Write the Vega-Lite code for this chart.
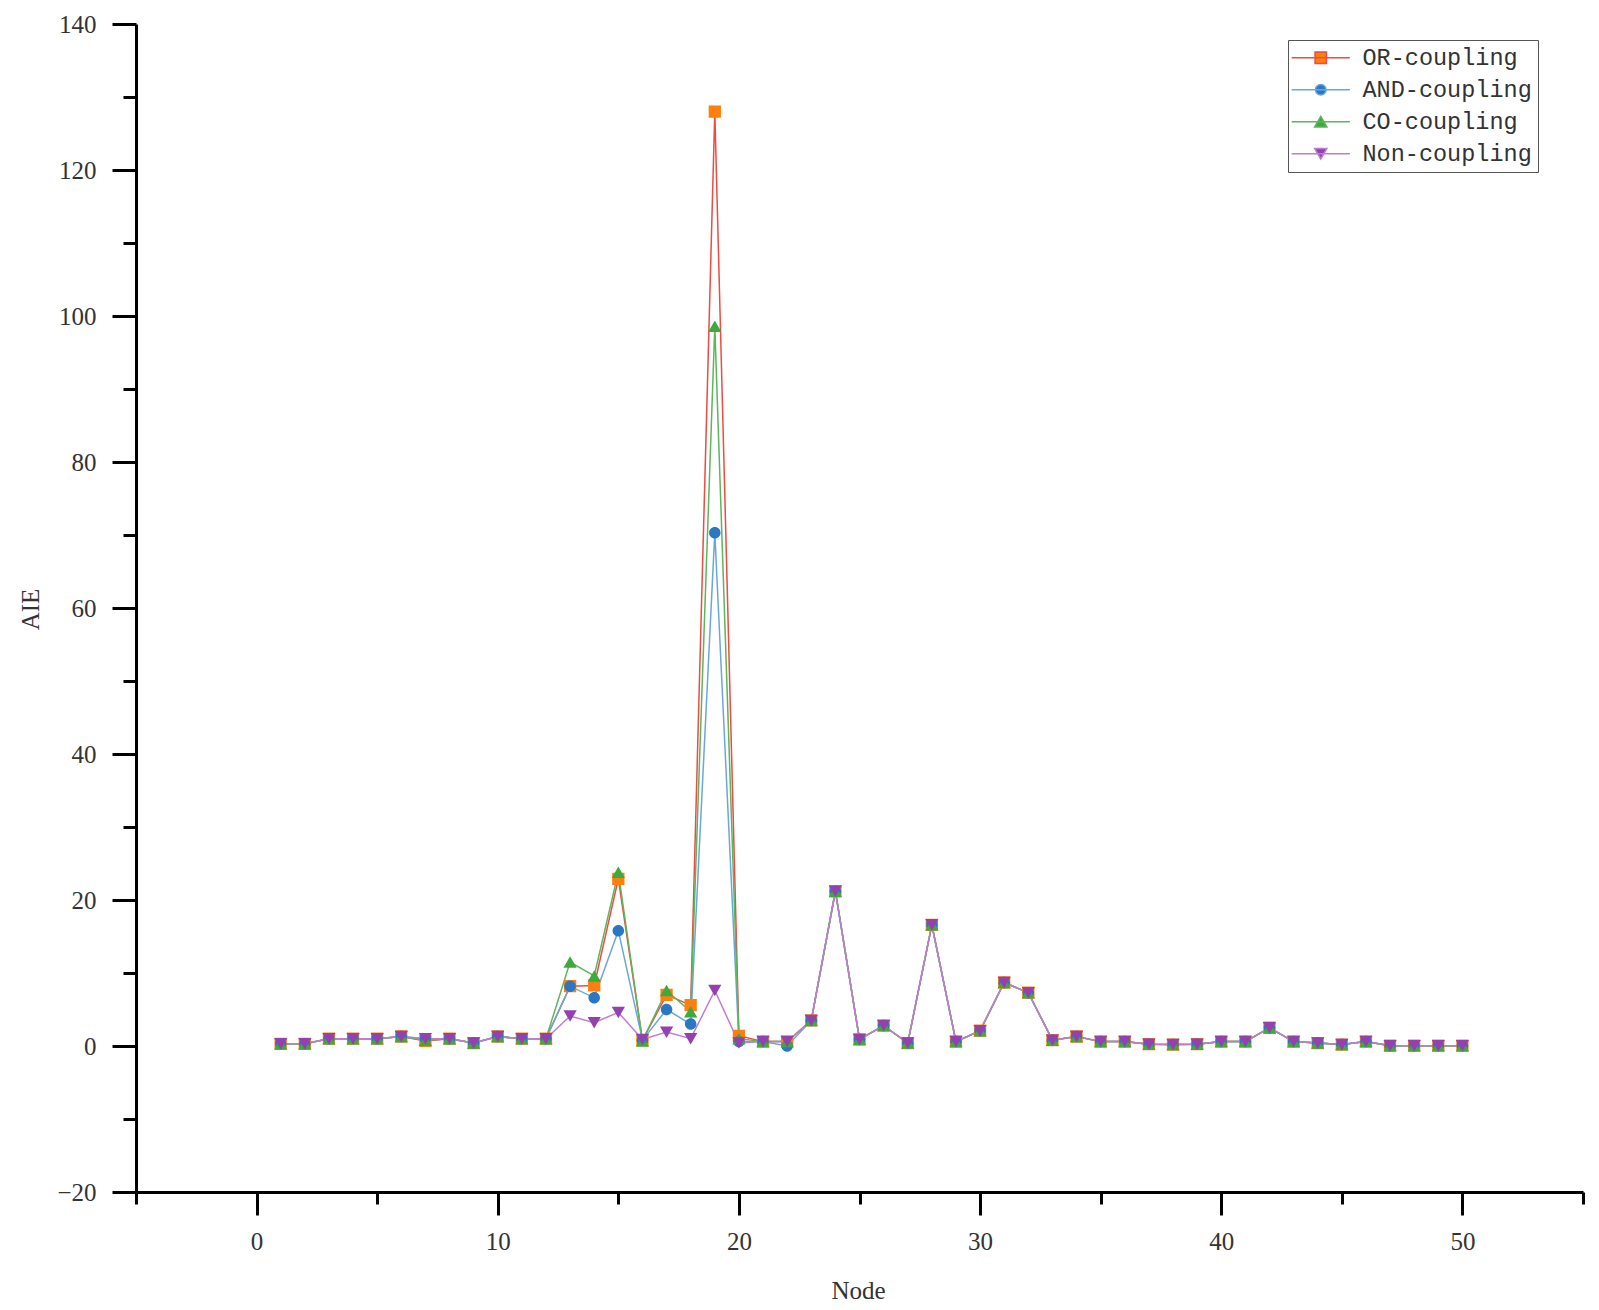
{
  "$schema": "https://vega.github.io/schema/vega-lite/v6.json",
  "width": 1447,
  "height": 1168,
  "autosize": {"type": "none"},
  "padding": {"left": 136, "top": 24, "right": 16, "bottom": 118},
  "background": "white",
  "config": {
    "view": {"stroke": null},
    "axis": {
      "domainColor": "black",
      "domainWidth": 3,
      "tickColor": "black",
      "tickWidth": 3,
      "grid": false,
      "labelFont": "Liberation Serif",
      "labelFontSize": 25,
      "labelColor": "#333333",
      "titleFont": "Liberation Serif",
      "titleFontSize": 25,
      "titleFontWeight": "normal",
      "titleColor": "#333333"
    },
    "legend": {
      "orient": "none",
      "legendX": 1152,
      "legendY": 16,
      "padding": 6,
      "strokeColor": "#555555",
      "fillColor": "white",
      "labelFont": "Liberation Mono",
      "labelFontSize": 23.5,
      "labelColor": "#333333",
      "labelLimit": 400,
      "labelOffset": 30,
      "symbolOffset": 15,
      "symbolSize": 150,
      "symbolStrokeWidth": 1.5,
      "symbolOpacity": 1,
      "rowPadding": 7
    }
  },
  "data": {
    "values": [
      {"node": 1, "OR-coupling": 0.3, "AND-coupling": 0.3, "CO-coupling": 0.3, "Non-coupling": 0.3},
      {"node": 2, "OR-coupling": 0.3, "AND-coupling": 0.3, "CO-coupling": 0.3, "Non-coupling": 0.3},
      {"node": 3, "OR-coupling": 1.0, "AND-coupling": 1.0, "CO-coupling": 1.0, "Non-coupling": 1.0},
      {"node": 4, "OR-coupling": 1.0, "AND-coupling": 1.0, "CO-coupling": 1.0, "Non-coupling": 1.0},
      {"node": 5, "OR-coupling": 1.0, "AND-coupling": 1.0, "CO-coupling": 1.0, "Non-coupling": 1.0},
      {"node": 6, "OR-coupling": 1.3, "AND-coupling": 1.3, "CO-coupling": 1.3, "Non-coupling": 1.3},
      {"node": 7, "OR-coupling": 0.7, "AND-coupling": 1.0, "CO-coupling": 0.8, "Non-coupling": 1.0},
      {"node": 8, "OR-coupling": 1.0, "AND-coupling": 1.0, "CO-coupling": 1.0, "Non-coupling": 1.0},
      {"node": 9, "OR-coupling": 0.4, "AND-coupling": 0.4, "CO-coupling": 0.4, "Non-coupling": 0.4},
      {"node": 10, "OR-coupling": 1.3, "AND-coupling": 1.3, "CO-coupling": 1.3, "Non-coupling": 1.3},
      {"node": 11, "OR-coupling": 1.0, "AND-coupling": 1.0, "CO-coupling": 1.0, "Non-coupling": 1.0},
      {"node": 12, "OR-coupling": 1.0, "AND-coupling": 1.0, "CO-coupling": 1.0, "Non-coupling": 1.0},
      {"node": 13, "OR-coupling": 8.2, "AND-coupling": 8.2, "CO-coupling": 11.5, "Non-coupling": 4.1},
      {"node": 14, "OR-coupling": 8.3, "AND-coupling": 6.6, "CO-coupling": 9.6, "Non-coupling": 3.2},
      {"node": 15, "OR-coupling": 22.9, "AND-coupling": 15.8, "CO-coupling": 23.8, "Non-coupling": 4.6},
      {"node": 16, "OR-coupling": 0.8, "AND-coupling": 0.8, "CO-coupling": 0.7, "Non-coupling": 0.9},
      {"node": 17, "OR-coupling": 7.0, "AND-coupling": 5.0, "CO-coupling": 7.6, "Non-coupling": 1.9},
      {"node": 18, "OR-coupling": 5.6, "AND-coupling": 3.0, "CO-coupling": 4.7, "Non-coupling": 1.0},
      {"node": 19, "OR-coupling": 128.0, "AND-coupling": 70.3, "CO-coupling": 98.6, "Non-coupling": 7.6},
      {"node": 20, "OR-coupling": 1.4, "AND-coupling": 0.6, "CO-coupling": 1.0, "Non-coupling": 0.4},
      {"node": 21, "OR-coupling": 0.6, "AND-coupling": 0.6, "CO-coupling": 0.6, "Non-coupling": 0.6},
      {"node": 22, "OR-coupling": 0.6, "AND-coupling": 0.0, "CO-coupling": 0.6, "Non-coupling": 0.6},
      {"node": 23, "OR-coupling": 3.5, "AND-coupling": 3.5, "CO-coupling": 3.5, "Non-coupling": 3.5},
      {"node": 24, "OR-coupling": 21.2, "AND-coupling": 21.2, "CO-coupling": 21.2, "Non-coupling": 21.2},
      {"node": 25, "OR-coupling": 0.9, "AND-coupling": 0.9, "CO-coupling": 0.9, "Non-coupling": 0.9},
      {"node": 26, "OR-coupling": 2.8, "AND-coupling": 2.8, "CO-coupling": 2.8, "Non-coupling": 2.8},
      {"node": 27, "OR-coupling": 0.4, "AND-coupling": 0.4, "CO-coupling": 0.4, "Non-coupling": 0.4},
      {"node": 28, "OR-coupling": 16.6, "AND-coupling": 16.6, "CO-coupling": 16.6, "Non-coupling": 16.6},
      {"node": 29, "OR-coupling": 0.6, "AND-coupling": 0.6, "CO-coupling": 0.6, "Non-coupling": 0.6},
      {"node": 30, "OR-coupling": 2.1, "AND-coupling": 2.1, "CO-coupling": 2.1, "Non-coupling": 2.1},
      {"node": 31, "OR-coupling": 8.7, "AND-coupling": 8.7, "CO-coupling": 8.7, "Non-coupling": 8.7},
      {"node": 32, "OR-coupling": 7.3, "AND-coupling": 7.3, "CO-coupling": 7.3, "Non-coupling": 7.3},
      {"node": 33, "OR-coupling": 0.8, "AND-coupling": 0.8, "CO-coupling": 0.8, "Non-coupling": 0.8},
      {"node": 34, "OR-coupling": 1.3, "AND-coupling": 1.3, "CO-coupling": 1.3, "Non-coupling": 1.3},
      {"node": 35, "OR-coupling": 0.6, "AND-coupling": 0.6, "CO-coupling": 0.6, "Non-coupling": 0.6},
      {"node": 36, "OR-coupling": 0.6, "AND-coupling": 0.6, "CO-coupling": 0.6, "Non-coupling": 0.6},
      {"node": 37, "OR-coupling": 0.25, "AND-coupling": 0.25, "CO-coupling": 0.25, "Non-coupling": 0.25},
      {"node": 38, "OR-coupling": 0.2, "AND-coupling": 0.2, "CO-coupling": 0.2, "Non-coupling": 0.2},
      {"node": 39, "OR-coupling": 0.25, "AND-coupling": 0.25, "CO-coupling": 0.25, "Non-coupling": 0.25},
      {"node": 40, "OR-coupling": 0.6, "AND-coupling": 0.6, "CO-coupling": 0.6, "Non-coupling": 0.6},
      {"node": 41, "OR-coupling": 0.6, "AND-coupling": 0.6, "CO-coupling": 0.6, "Non-coupling": 0.6},
      {"node": 42, "OR-coupling": 2.5, "AND-coupling": 2.5, "CO-coupling": 2.5, "Non-coupling": 2.5},
      {"node": 43, "OR-coupling": 0.6, "AND-coupling": 0.6, "CO-coupling": 0.6, "Non-coupling": 0.6},
      {"node": 44, "OR-coupling": 0.4, "AND-coupling": 0.4, "CO-coupling": 0.4, "Non-coupling": 0.4},
      {"node": 45, "OR-coupling": 0.2, "AND-coupling": 0.2, "CO-coupling": 0.2, "Non-coupling": 0.2},
      {"node": 46, "OR-coupling": 0.6, "AND-coupling": 0.6, "CO-coupling": 0.6, "Non-coupling": 0.6},
      {"node": 47, "OR-coupling": 0.05, "AND-coupling": 0.05, "CO-coupling": 0.05, "Non-coupling": 0.05},
      {"node": 48, "OR-coupling": 0.05, "AND-coupling": 0.05, "CO-coupling": 0.05, "Non-coupling": 0.05},
      {"node": 49, "OR-coupling": 0.05, "AND-coupling": 0.05, "CO-coupling": 0.05, "Non-coupling": 0.05},
      {"node": 50, "OR-coupling": 0.05, "AND-coupling": 0.05, "CO-coupling": 0.05, "Non-coupling": 0.05}
    ]
  },
  "transform": [
    {"fold": ["OR-coupling", "AND-coupling", "CO-coupling", "Non-coupling"], "as": ["series", "aie"]}
  ],
  "encoding": {
    "x": {
      "field": "node",
      "type": "quantitative",
      "scale": {"domain": [-5, 55], "nice": false, "zero": false},
      "axis": {
        "title": "Node",
        "values": [-5, 0, 5, 10, 15, 20, 25, 30, 35, 40, 45, 50, 55],
        "labelExpr": "datum.value % 10 === 0 ? datum.label : ''",
        "tickSize": {"condition": {"test": "datum.value % 10 === 0", "value": 23}, "value": 12},
        "labelPadding": 14,
        "titleX": 722,
        "titleY": 98,
        "titleBaseline": "middle",
        "titleAnchor": "middle"
      }
    },
    "y": {
      "field": "aie",
      "type": "quantitative",
      "scale": {"domain": [-20, 140], "nice": false, "zero": false},
      "axis": {
        "title": "AIE",
        "values": [-20, -10, 0, 10, 20, 30, 40, 50, 60, 70, 80, 90, 100, 110, 120, 130, 140],
        "labelExpr": "datum.value % 20 === 0 ? datum.label : ''",
        "tickSize": {"condition": {"test": "datum.value % 20 === 0", "value": 24}, "value": 13},
        "labelPadding": 16,
        "titleX": -106,
        "titleY": 585,
        "titleBaseline": "middle",
        "titleAngle": -90
      }
    }
  },
  "layer": [
    {
      "mark": {"type": "line", "strokeWidth": 1.5},
      "encoding": {
        "stroke": {
          "field": "series",
          "type": "nominal",
          "title": null,
          "scale": {
            "domain": ["OR-coupling", "AND-coupling", "CO-coupling", "Non-coupling"],
            "range": ["#EE4B42", "#6AA7DC", "#5DB55C", "#C07DD0"]
          },
          "legend": {"title": null}
        }
      }
    },
    {
      "mark": {"type": "point", "filled": true, "opacity": 1, "strokeWidth": 0, "size": 175},
      "encoding": {
        "fill": {
          "field": "series",
          "type": "nominal",
          "title": null,
          "scale": {
            "domain": ["OR-coupling", "AND-coupling", "CO-coupling", "Non-coupling"],
            "range": ["#FF7F0E", "#2A78C4", "#3DAA3D", "#9440AE"]
          }
        },
        "shape": {
          "field": "series",
          "type": "nominal",
          "title": null,
          "scale": {
            "domain": ["OR-coupling", "AND-coupling", "CO-coupling", "Non-coupling"],
            "range": [
              "M-4.75,0H4.75M-0.93,-0.93H0.93V0.93H-0.93Z",
              "M-4.75,0H4.75M0.87,0A0.87,0.87,0,1,1,-0.87,0A0.87,0.87,0,1,1,0.87,0Z",
              "M-4.75,0H4.75M0,-0.87L1,0.87L-1,0.87Z",
              "M-4.75,0H4.75M0,0.87L1,-0.87L-1,-0.87Z"
            ]
          }
        }
      }
    }
  ]
}
